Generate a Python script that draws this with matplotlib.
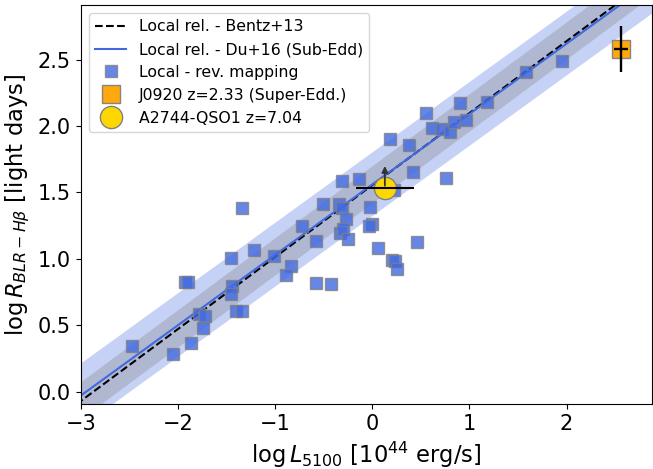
import numpy as np
import matplotlib.pyplot as plt

# local reverberation-mapped AGN
logL_local = [-2.47, -2.05, -1.93, -1.90, -1.87, -1.78, -1.72, -1.74, -1.45, -1.44,
              -1.45, -1.40, -1.34, -1.34, -1.22, -1.01, -0.84, -0.89, -0.72, -0.58,
              -0.58, -0.42, -0.51, -0.345, -0.31, -0.31, -0.27, -0.33, -0.30, -0.245,
              -0.14, -0.02, 0.0, -0.03, 0.06, 0.227, 0.20, 0.23, 0.26, 0.183,
              0.38, 0.42, 0.46, 0.55, 0.62, 0.72, 0.76, 0.80, 0.84, 0.90,
              0.96, 1.185, 1.585, 1.955]
logR_local = [0.345, 0.285, 0.823, 0.823, 0.365, 0.583, 0.572, 0.482, 1.01, 0.795,
              0.737, 0.608, 0.608, 1.383, 1.07, 1.025, 0.943, 0.878, 1.25, 1.133,
              0.815, 0.812, 1.41, 1.415, 1.383, 1.583, 1.303, 1.198, 1.228, 1.153,
              1.60, 1.39, 1.265, 1.245, 1.08, 1.515, 0.99, 0.985, 0.923, 1.903,
              1.858, 1.653, 1.128, 2.098, 1.986, 1.978, 1.608, 1.953, 2.028, 2.17,
              2.048, 2.178, 2.403, 2.49]

# J0920 z=2.33
j0920_L, j0920_R = 2.56, 2.58
j0920_Lerr, j0920_Rerr = 0.07, 0.17

# A2744-QSO1 z=7.04 (lower limit on R)
qso1_L, qso1_R = 0.13, 1.53
qso1_Lerr = 0.30
qso1_arrow = 0.19

# relations: log R = a + b log L
bentz_a, bentz_b, bentz_sig = 1.555, 0.542, 0.14
du_a, du_b, du_sig = 1.56, 0.53, 0.24

xx = np.linspace(-3.5, 3.5, 200)
bentz = bentz_a + bentz_b * xx
du = du_a + du_b * xx

fig = plt.figure(figsize=(6.53, 4.69), dpi=100)
ax = fig.add_axes([0.1236, 0.138, 0.875, 0.851])

ax.fill_between(xx, du - du_sig, du + du_sig, color='royalblue', alpha=0.3, lw=0)
ax.fill_between(xx, bentz - bentz_sig, bentz + bentz_sig, color='grey', alpha=0.3, lw=0)
ax.plot(xx, bentz, 'k--', lw=1.5, label='Local rel. - Bentz+13')
ax.plot(xx, du, color='royalblue', lw=1.5, label='Local rel. - Du+16 (Sub-Edd)')

ax.plot(logL_local, logR_local, 's', color='royalblue', alpha=0.8, ms=8.5,
        mec='grey', mew=1, label='Local - rev. mapping', zorder=3)

ax.errorbar(j0920_L, j0920_R, xerr=j0920_Lerr, yerr=j0920_Rerr, fmt='none',
            ecolor='k', elinewidth=1.7, zorder=4)
ax.plot(j0920_L, j0920_R, 's', color='orange', ms=12.5, mec='grey', mew=1,
        alpha=0.95, zorder=3.5, label='J0920 z=2.33 (Super-Edd.)')

ax.plot(qso1_L, qso1_R, 'o', color='gold', ms=16, mec='grey', mew=1, zorder=5,
        label='A2744-QSO1 z=7.04')
ax.errorbar(qso1_L, qso1_R, xerr=qso1_Lerr, fmt='none', ecolor='k', elinewidth=1.5, zorder=6)
ax.annotate('', xy=(qso1_L, qso1_R + qso1_arrow), xytext=(qso1_L, qso1_R),
            arrowprops=dict(arrowstyle='-|>', color='#333333', lw=1.3, mutation_scale=9),
            zorder=6)

ax.set_xlim(-3, 2.88)
ax.set_ylim(-0.095, 2.91)
ax.set_xticks([-3, -2, -1, 0, 1, 2])
ax.set_yticks([0.0, 0.5, 1.0, 1.5, 2.0, 2.5])
ax.tick_params(labelsize=15)
ax.set_xlabel(r'$\log L_{5100}$ [$10^{44}$ erg/s]', fontsize=16.3)
ax.set_ylabel(r'$\log R_{BLR-H\beta}$ [light days]', fontsize=16.3)
ax.legend(loc='upper left', fontsize=11.3, handlelength=2.0, labelspacing=0.5)

fig.savefig('out.png', dpi=100)
